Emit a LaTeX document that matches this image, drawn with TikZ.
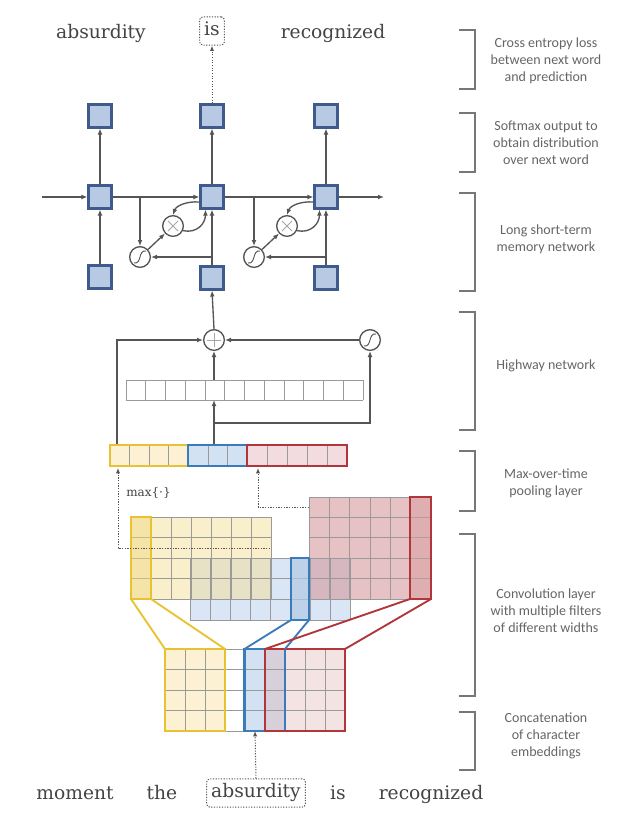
\documentclass[tikz,border=0pt]{standalone}
\usepackage{fontspec}
\setmainfont{DejaVu Serif}
\newfontfamily\labfont{Carlito}
\usetikzlibrary{arrows.meta,calc}
\definecolor{lc}{HTML}{555555}
\definecolor{wc}{HTML}{444444}
\definecolor{labc}{HTML}{666666}
\definecolor{brc}{HTML}{777777}
\definecolor{sqf}{HTML}{B7C9E3}
\definecolor{sqb}{HTML}{3E5B8C}
\definecolor{gl}{HTML}{9A9A9A}
\definecolor{yb}{HTML}{E8C232}
\definecolor{yf}{HTML}{FCF1D3}
\definecolor{bb}{HTML}{3C7BBA}
\definecolor{bf}{HTML}{D3E2F3}
\definecolor{rb}{HTML}{B0363C}
\definecolor{rf}{HTML}{F3DCDF}
\newcommand\gridbox[6]{%
  \foreach \i in {0,...,#3} \draw[gridline] ({#1+\i*#5},#2) -- ++(0,{#4*#6});
  \foreach \j in {0,...,#4} \draw[gridline] (#1,{#2+\j*#6}) -- ++({#3*#5},0);
}
\tikzset{
  gridline/.style={draw=gl, line width=0.6pt},
  line/.style={draw=lc, line width=1pt},
  arr/.style={line, -{Latex[length=4.5pt,width=3.6pt]}},
  dotarr/.style={draw=lc, line width=0.75pt, dash pattern=on 0.9pt off 1.1pt, -{Latex[length=4pt,width=3.2pt]}},
  sq/.style={draw=sqb, fill=sqf, line width=1.6pt, minimum size=17.2pt, inner sep=0pt},
  circ/.style={circle, draw=lc, line width=1pt, minimum size=15.5pt, inner sep=0pt, fill=white},
  sig/.style={circ, path picture={\draw[lc, line width=0.7pt]
      ([shift={(-4.5pt,-4.5pt)}]path picture bounding box.center) .. controls
      ([shift={(1.5pt,-5.5pt)}]path picture bounding box.center) and
      ([shift={(-1.5pt,5.5pt)}]path picture bounding box.center) ..
      ([shift={(4.5pt,4.5pt)}]path picture bounding box.center);}},
  times/.style={circ, path picture={\draw[gray!70, line width=0.7pt]
      ([shift={(-3.8pt,-3.8pt)}]path picture bounding box.center) -- ([shift={(3.8pt,3.8pt)}]path picture bounding box.center)
      ([shift={(-3.8pt,3.8pt)}]path picture bounding box.center) -- ([shift={(3.8pt,-3.8pt)}]path picture bounding box.center);}},
  plusc/.style={circ, path picture={\draw[gray!70, line width=0.7pt]
      ([shift={(-5pt,0pt)}]path picture bounding box.center) -- ([shift={(5pt,0pt)}]path picture bounding box.center)
      ([shift={(0pt,-5pt)}]path picture bounding box.center) -- ([shift={(0pt,5pt)}]path picture bounding box.center);}},
  word/.style={font=\fontsize{14}{16}\selectfont, text=wc, anchor=base, inner sep=0pt},
  wbox/.style={word, draw=lc, line width=0.75pt, dash pattern=on 0.9pt off 1.1pt, rounded corners=2.5pt, anchor=center,
      text height=10.2pt, text depth=3.4pt, inner xsep=3.5pt, inner ysep=3.8pt},
  labtext/.style={font=\labfont\fontsize{10.5}{12.75}\selectfont, text=labc, align=center},
  brk/.style={draw=brc, line width=0.8pt},
}
\begin{document}
\begin{tikzpicture}[x=0.75pt,y=-0.75pt]
\useasboundingbox (0,0) rectangle (638,835);
\fill[white] (0,0) rectangle (638,835);

% ---------- top words ----------
\node[word] (wt1) at (101,38) {absurdity};
\node[wbox] (wis) at (212,31) {is};
\node[word] (wt3) at (333,38) {recognized};

% ---------- LSTM ----------
\node[sq] (t1) at (100,116) {};
\node[sq] (t2) at (212,116) {};
\node[sq] (t3) at (326,116) {};
\node[sq] (m1) at (100,197) {};
\node[sq] (m2) at (212,197) {};
\node[sq] (m3) at (326,197) {};
\node[sq] (b1) at (100,277) {};
\node[sq] (b2) at (212,278) {};
\node[sq] (b3) at (326,278) {};
\node[sig] (s1) at (140,257) {};
\node[times] (x1) at (173,226) {};
\node[sig] (s2) at (254,257) {};
\node[times] (x2) at (287,226) {};
\coordinate (hstart) at (42,197);
\coordinate (hend) at (384,197);

\draw[dotarr] (t2.north) -- (wis.south);
\foreach \c in {1,2,3} {
  \draw[arr] (m\c.north) -- (t\c.south);
  \draw[arr] (b\c.north) -- (m\c.south);
}
\draw[arr] (hstart) -- (m1.west);
\draw[arr] (m1.east) -- (m2.west);
\draw[arr] (m2.east) -- (m3.west);
\draw[arr] (m3.east) -- (hend);
% cell 1
\draw[arr] (s1 |- m1) -- (s1.north);
\draw[arr] (b2 |- s1) -- (s1.east);
\draw[arr] (s1) -- (x1);
\draw[arr] ($(m2.west)+(0,5)$) .. controls ($(m2.west)+(-13,4)$) and ($(x1.north)+(3,-9)$) .. (x1.north);
\draw[arr] (x1.-25) .. controls ($(x1.-25)+(14,3)$) and ($(m2.south west)+(6,14)$) .. ($(m2.south west)+(6,0)$);
% cell 2
\draw[arr] (s2 |- m2) -- (s2.north);
\draw[arr] (b3 |- s2) -- (s2.east);
\draw[arr] (s2) -- (x2);
\draw[arr] ($(m3.west)+(0,5)$) .. controls ($(m3.west)+(-13,4)$) and ($(x2.north)+(3,-9)$) .. (x2.north);
\draw[arr] (x2.-25) .. controls ($(x2.-25)+(14,3)$) and ($(m3.south west)+(6,14)$) .. ($(m3.south west)+(6,0)$);

% ---------- Highway ----------
\node[plusc] (pl) at (214,340) {};
\node[sig] (hs) at (370,340) {};
\gridbox{126}{380}{12}{1}{19.75}{20}
\coordinate (hvtop) at (214,380);
\coordinate (hvbot) at (214,400);
\coordinate (ptop) at (214,445);
\coordinate (hbr) at (214,423);
\coordinate (ytop) at (117,445);
\draw[arr] (ytop) |- (pl.west);
\draw[arr] (hs.west) -- (pl.east);
\draw[arr] (hvtop) -- (pl.south);
\draw[arr] (ptop) -- (hvbot);
\draw[arr] (hbr) -| (hs.south);
\draw[arr] (pl.north) -- (b2.south);

% ---------- pooling vector ----------
\fill[yf] (110,445) rectangle (188.4,466);
\fill[bf] (188.4,445) rectangle (247.4,466);
\fill[rf] (247.4,445) rectangle (347,466);
\gridbox{110}{445}{4}{1}{19.6}{21}
\gridbox{188.4}{445}{3}{1}{19.67}{21}
\gridbox{247.4}{445}{5}{1}{19.92}{21}
\draw[yb, line width=1.5pt] (110,445) rectangle (188.4,466);
\draw[bb, line width=1.5pt] (188.4,445) rectangle (247.4,466);
\draw[rb, line width=1.5pt] (247.4,445) rectangle (347,466);

% ---------- convolution maps ----------
\fill[bf!85] (190,558) rectangle (350,620);
\fill[yb!50!white, opacity=0.5] (131,517) rectangle (271,599);
\fill[rb!55!white, opacity=0.55] (309,497) rectangle (431,599);
\gridbox{190}{558}{8}{3}{20}{20.67}
\gridbox{131}{517}{7}{4}{20}{20.5}
\gridbox{309}{497}{6}{5}{20.33}{20.4}
\fill[yb!60!white, opacity=0.5] (131,517) rectangle (151,599);
\draw[yb, line width=1.6pt] (131,517) rectangle (151,599);
\fill[bb!40!white, opacity=0.7] (291,558) rectangle (309,620);
\draw[bb, line width=1.6pt] (291,558) rectangle (309,620);
\fill[rb!50!white, opacity=0.5] (410,497) rectangle (431,599);
\draw[rb, line width=1.6pt] (410,497) rectangle (431,599);

\node[font=\fontsize{9}{10}\selectfont, text=wc, anchor=west, inner sep=0pt] (mx) at (126,493) {max\{·\}};
\coordinate (ymr) at (270,548);
\coordinate (yp) at (118,468);
\coordinate (rml) at (309,507);
\coordinate (rp) at (258,468);
\draw[dotarr] (ymr) -| (yp);
\draw[dotarr] (rml) -| (rp);

% ---------- embedding matrix ----------
\fill[yf] (165,649) rectangle (225,731);
\fill[bf] (245,649) rectangle (285,731);
\fill[rb!40!white, opacity=0.35] (265,649) rectangle (345,731);
\gridbox{165}{649}{9}{4}{20}{20.5}
\draw[yb, line width=1.6pt] (165,649) rectangle (225,731);
\draw[bb, line width=1.6pt] (244.5,649) rectangle (285,731);
\draw[rb, line width=1.6pt] (265,649) rectangle (345,731);
\coordinate (eyl) at (165,649);
\coordinate (eyr) at (225,649);
\coordinate (ebl) at (244.5,649);
\coordinate (ebr) at (285,649);
\coordinate (erl) at (265,649);
\coordinate (err) at (345,649);
\coordinate (myl) at (131,599);
\coordinate (myr) at (151,599);
\coordinate (mbl) at (291,620);
\coordinate (mbr) at (309,620);
\coordinate (mrl) at (410,599);
\coordinate (mrr) at (431,599);
\draw[yb, line width=1.4pt] (myl) -- (eyl) (myr) -- (eyr);
\draw[bb, line width=1.4pt] (mbl) -- (ebl) (mbr) -- (ebr);
\draw[rb, line width=1.4pt] (mrl) -- (erl) (mrr) -- (err);
\coordinate (ebot) at (255,731);

% ---------- bottom words ----------
\node[word] (w1) at (75,799) {moment};
\node[word] (w2) at (162,799) {the};
\node[wbox] (w3) at (256,793) {absurdity};
\node[word] (w4) at (338,799) {is};
\node[word] (w5) at (431,799) {recognized};
\draw[dotarr] (w3.north) -- (ebot);

% ---------- brackets and labels ----------
\draw[brk] (459,30) -- (475,30) -- (475,89) -- (459,89);
\draw[brk] (459,113) -- (475,113) -- (475,172) -- (459,172);
\draw[brk] (459,193) -- (475,193) -- (475,291) -- (459,291);
\draw[brk] (459,312) -- (475,312) -- (475,430) -- (459,430);
\draw[brk] (459,451) -- (475,451) -- (475,511) -- (459,511);
\draw[brk] (459,534) -- (475,534) -- (475,696) -- (459,696);
\draw[brk] (459,712) -- (475,712) -- (475,770) -- (459,770);
\node[labtext] (l1) at (546,61) {Cross entropy loss\\between next word\\and prediction};
\node[labtext] (l2) at (546,143) {Softmax output to\\obtain distribution\\over next word};
\node[labtext] (l3) at (546,239) {Long short-term\\memory network};
\node[labtext] (l4) at (546,366) {Highway network};
\node[labtext] (l5) at (546,483) {Max-over-time\\pooling layer};
\node[labtext] (l6) at (546,611) {Convolution layer\\with multiple filters\\of different widths};
\node[labtext] (l7) at (546,736) {Concatenation\\of character\\embeddings};
\end{tikzpicture}
\end{document}
